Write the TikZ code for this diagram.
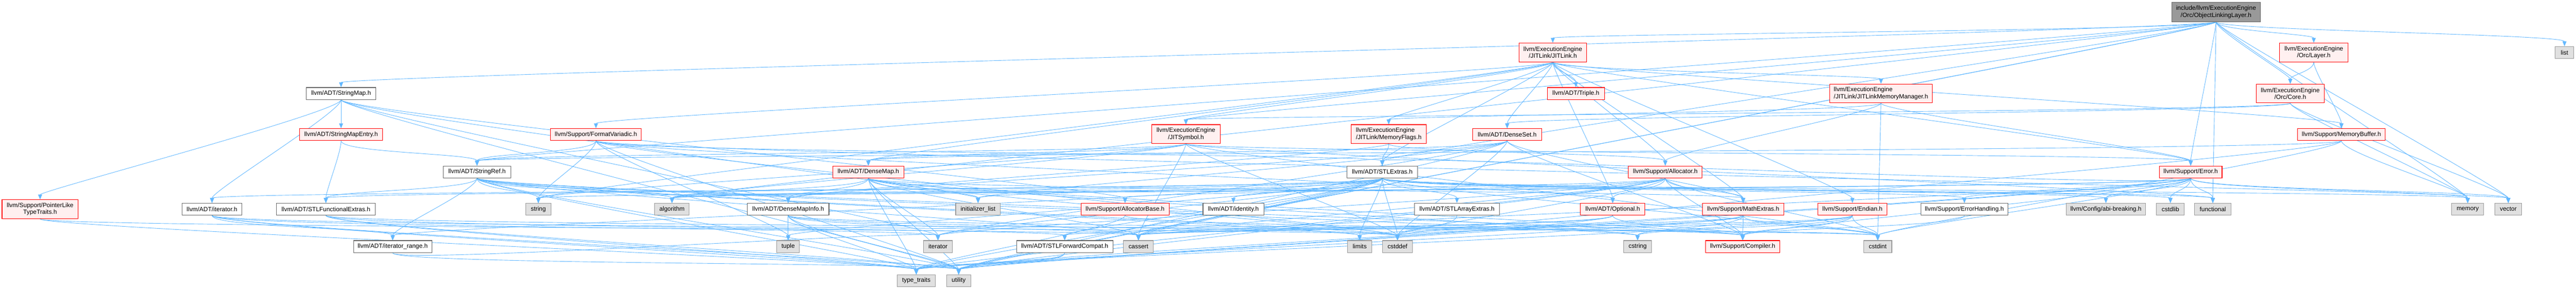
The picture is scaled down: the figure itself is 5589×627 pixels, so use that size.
\documentclass[tikz,border=0pt]{standalone}
\usepackage{fontspec}
\setmainfont{Liberation Sans}
\usetikzlibrary{arrows.meta,backgrounds}
\definecolor{edgeblue}{HTML}{63B8FF}
\definecolor{pinkfill}{HTML}{FFF0F0}
\definecolor{grayfill}{HTML}{E0E0E0}
\definecolor{grayborder}{HTML}{999999}
\definecolor{whiteborder}{HTML}{666666}
\definecolor{mainfill}{HTML}{999999}
\tikzset{
  basebox/.style={rectangle, inner sep=1pt, font=\fontsize{10pt}{11.25pt}\selectfont, align=center, line width=0.9pt},
  rednode/.style={basebox, draw=red, fill=pinkfill},
  redleft/.style={basebox, draw=red, fill=pinkfill, align=left},
  graynode/.style={basebox, draw=grayborder, fill=grayfill},
  whitenode/.style={basebox, draw=whiteborder, fill=white},
  mainnode/.style={basebox, draw=whiteborder, fill=mainfill},
  depline/.style={draw=edgeblue, line width=0.75pt, -{Triangle[length=8pt,width=6.5pt]}}
}
\newcommand\mk[7]{\node[#1,minimum width=#5*0.75pt,minimum height=#6*0.75pt] (#2) at (#3,#4) {#7};}
\newcommand\dep[2]{\draw[depline] (#1) .. controls +(0,40) and +(0,-40) .. (#2);}
\begin{document}
\begin{tikzpicture}[x=0.75pt,y=-0.75pt]
\useasboundingbox (0,0) rectangle (5589,627);
% row 0
\mk{mainnode}{main}{4808}{26}{192}{42}{include/llvm/ExecutionEngine\\/Orc/ObjectLinkingLayer.h}
% row 1
\mk{rednode}{jitlink}{3369}{114}{147}{41}{llvm/ExecutionEngine\\/JITLink/JITLink.h}
\mk{rednode}{layer}{5020}{114}{148}{41}{llvm/ExecutionEngine\\/Orc/Layer.h}
\mk{graynode}{list}{5564}{114}{40}{26}{list}
% row 2
\mk{whitenode}{stringmap}{740}{203}{151}{26}{llvm/ADT/StringMap.h}
\mk{rednode}{triple}{3419}{203}{124}{26}{llvm/ADT/Triple.h}
\mk{redleft}{jlmm}{4081}{203}{223}{41}{llvm/ExecutionEngine\\/JITLink/JITLinkMemoryManager.h}
\mk{rednode}{core}{4969}{203}{148}{41}{llvm/ExecutionEngine\\/Orc/Core.h}
% row 3
\mk{rednode}{smentry}{740}{292}{180}{26}{llvm/ADT/StringMapEntry.h}
\mk{rednode}{fmtvar}{1293}{292}{197}{26}{llvm/Support/FormatVariadic.h}
\mk{rednode}{jitsym}{2573}{291}{148}{41}{llvm/ExecutionEngine\\/JITSymbol.h}
\mk{redleft}{memflags}{3013}{291}{163}{41}{llvm/ExecutionEngine\\/JITLink/MemoryFlags.h}
\mk{rednode}{denseset}{3270}{292}{149}{26}{llvm/ADT/DenseSet.h}
\mk{rednode}{membuf}{5080}{292}{190}{26}{llvm/Support/MemoryBuffer.h}
% row 4
\mk{whitenode}{stringref}{1035}{373}{146}{26}{llvm/ADT/StringRef.h}
\mk{rednode}{densemap}{1884}{373}{155}{26}{llvm/ADT/DenseMap.h}
\mk{whitenode}{stlextras}{2999}{373}{153}{26}{llvm/ADT/STLExtras.h}
\mk{rednode}{allocator}{3613}{373}{160}{26}{llvm/Support/Allocator.h}
\mk{rednode}{error}{4753}{373}{136}{26}{llvm/Support/Error.h}
% row 5
\mk{rednode}{ptrtraits}{87}{454}{165}{41}{llvm/Support/PointerLike\\TypeTraits.h}
\mk{whitenode}{iterh}{460}{454}{130}{26}{llvm/ADT/iterator.h}
\mk{whitenode}{stlfunc}{707}{454}{214}{26}{llvm/ADT/STLFunctionalExtras.h}
\mk{graynode}{string}{1168}{454}{54}{26}{string}
\mk{graynode}{algorithm}{1458}{454}{75}{26}{algorithm}
\mk{whitenode}{dmi}{1710}{454}{177}{26}{llvm/ADT/DenseMapInfo.h}
\mk{graynode}{initlist}{2122}{454}{97}{26}{initializer\_list}
\mk{rednode}{allocbase}{2441}{454}{191}{26}{llvm/Support/AllocatorBase.h}
\mk{whitenode}{identity}{2676}{454}{132}{26}{llvm/ADT/identity.h}
\mk{whitenode}{stlarray}{3161}{454}{185}{26}{llvm/ADT/STLArrayExtras.h}
\mk{rednode}{optional}{3499}{454}{140}{26}{llvm/ADT/Optional.h}
\mk{rednode}{mathext}{3782}{454}{177}{26}{llvm/Support/MathExtras.h}
\mk{rednode}{endian}{4019}{454}{150}{26}{llvm/Support/Endian.h}
\mk{whitenode}{errhand}{4262}{454}{189}{26}{llvm/Support/ErrorHandling.h}
\mk{graynode}{abi}{4569}{454}{173}{26}{llvm/Config/abi-breaking.h}
\mk{graynode}{cstdlib}{4709}{454}{60}{26}{cstdlib}
\mk{graynode}{functional}{4801}{454}{79}{26}{functional}
\mk{graynode}{memory}{5354}{454}{69}{26}{memory}
\mk{graynode}{vector}{5442}{454}{58}{26}{vector}
% row 6
\mk{whitenode}{iterrange}{852}{535}{170}{26}{llvm/ADT/iterator\_range.h}
\mk{graynode}{tuple}{1710}{535}{49}{26}{tuple}
\mk{graynode}{iterator}{2035}{535}{62}{26}{iterator}
\mk{whitenode}{stlfwd}{2310}{535}{209}{26}{llvm/ADT/STLForwardCompat.h}
\mk{graynode}{cassert}{2470}{535}{65}{26}{cassert}
\mk{graynode}{limits}{2950}{535}{52}{26}{limits}
\mk{graynode}{cstddef}{3032}{535}{64}{26}{cstddef}
\mk{graynode}{cstring}{3553}{535}{60}{26}{cstring}
\mk{rednode}{compiler}{3781}{535}{161}{26}{llvm/Support/Compiler.h}
\mk{graynode}{cstdint}{4074}{535}{61}{26}{cstdint}
% row 7
\mk{graynode}{typetraits}{1988}{609}{82}{26}{type\_traits}
\mk{graynode}{utility}{2080}{609}{52}{26}{utility}

\begin{pgfonlayer}{background}
% main
\dep{main}{stlextras}\dep{main}{stringmap}\dep{main}{stringref}\dep{main}{jitlink}
\dep{main}{jitsym}\dep{main}{core}\dep{main}{layer}\dep{main}{error}
\dep{main}{algorithm}\dep{main}{cassert}\dep{main}{functional}\dep{main}{list}
\dep{main}{memory}\dep{main}{utility}\dep{main}{vector}
% layer, core
\dep{layer}{core}\dep{layer}{membuf}
\dep{core}{jitsym}\dep{core}{denseset}\dep{core}{memory}\dep{core}{vector}
% jitlink
\dep{jitlink}{jlmm}\dep{jitlink}{memflags}\dep{jitlink}{jitsym}\dep{jitlink}{triple}
\dep{jitlink}{densemap}\dep{jitlink}{denseset}\dep{jitlink}{optional}\dep{jitlink}{stlextras}
\dep{jitlink}{allocator}\dep{jitlink}{endian}\dep{jitlink}{mathext}\dep{jitlink}{error}
\dep{jitlink}{fmtvar}\dep{jitlink}{membuf}\dep{jitlink}{string}
% jlmm
\dep{jlmm}{memflags}\dep{jlmm}{allocator}\dep{jlmm}{error}\dep{jlmm}{cstdint}
% memflags
\dep{memflags}{dmi}\dep{memflags}{stlextras}\dep{memflags}{allocator}
% jitsym
\dep{jitsym}{densemap}\dep{jitsym}{stringref}\dep{jitsym}{error}\dep{jitsym}{algorithm}
\dep{jitsym}{cassert}\dep{jitsym}{cstddef}\dep{jitsym}{cstdint}\dep{jitsym}{functional}
\dep{jitsym}{string}
% denseset
\dep{denseset}{densemap}\dep{denseset}{dmi}\dep{denseset}{compiler}\dep{denseset}{mathext}
\dep{denseset}{cstddef}\dep{denseset}{initlist}\dep{denseset}{iterator}\dep{denseset}{utility}
% densemap
\dep{densemap}{dmi}\dep{densemap}{compiler}\dep{densemap}{mathext}\dep{densemap}{algorithm}
\dep{densemap}{cassert}\dep{densemap}{cstddef}\dep{densemap}{cstring}\dep{densemap}{initlist}
\dep{densemap}{iterator}\dep{densemap}{typetraits}\dep{densemap}{utility}
% stlextras
\dep{stlextras}{identity}\dep{stlextras}{stlfwd}\dep{stlextras}{stlfunc}\dep{stlextras}{iterh}
\dep{stlextras}{iterrange}\dep{stlextras}{abi}\dep{stlextras}{errhand}\dep{stlextras}{stlarray}
\dep{stlextras}{algorithm}\dep{stlextras}{cassert}\dep{stlextras}{cstddef}\dep{stlextras}{cstdint}
\dep{stlextras}{cstdlib}\dep{stlextras}{functional}\dep{stlextras}{initlist}\dep{stlextras}{iterator}
\dep{stlextras}{limits}\dep{stlextras}{memory}\dep{stlextras}{tuple}\dep{stlextras}{typetraits}
\dep{stlextras}{utility}
\dep{stlarray}{cstddef}
% allocator
\dep{allocator}{allocbase}\dep{allocator}{compiler}\dep{allocator}{mathext}\dep{allocator}{optional}
\dep{allocator}{algorithm}\dep{allocator}{cassert}\dep{allocator}{cstddef}\dep{allocator}{cstdint}
\dep{allocator}{iterator}\dep{allocator}{typetraits}\dep{allocator}{utility}
\dep{allocbase}{compiler}\dep{allocbase}{typetraits}
% optional
\dep{optional}{compiler}\dep{optional}{stlfwd}\dep{optional}{cassert}\dep{optional}{utility}
% mathext
\dep{mathext}{compiler}\dep{mathext}{cassert}\dep{mathext}{cstdint}\dep{mathext}{cstring}
\dep{mathext}{limits}\dep{mathext}{typetraits}
% endian
\dep{endian}{compiler}\dep{endian}{cassert}\dep{endian}{cstddef}\dep{endian}{cstdint}
\dep{endian}{cstring}\dep{endian}{typetraits}
\dep{errhand}{compiler}
% error
\dep{error}{abi}\dep{error}{stlextras}\dep{error}{errhand}\dep{error}{compiler}
\dep{error}{algorithm}\dep{error}{cassert}\dep{error}{cstdint}\dep{error}{cstdlib}
\dep{error}{functional}\dep{error}{memory}\dep{error}{string}\dep{error}{typetraits}
\dep{error}{utility}\dep{error}{vector}
% membuf
\dep{membuf}{stringref}\dep{membuf}{cstddef}\dep{membuf}{cstdint}\dep{membuf}{memory}
% stringref
\dep{stringref}{dmi}\dep{stringref}{stlfunc}\dep{stringref}{iterrange}\dep{stringref}{compiler}
\dep{stringref}{algorithm}\dep{stringref}{cassert}\dep{stringref}{cstddef}\dep{stringref}{cstring}
\dep{stringref}{limits}\dep{stringref}{string}\dep{stringref}{typetraits}\dep{stringref}{utility}
% stringmap
\dep{stringmap}{smentry}\dep{stringmap}{ptrtraits}\dep{stringmap}{allocbase}\dep{stringmap}{iterh}
\dep{stringmap}{initlist}\dep{stringmap}{iterator}\dep{stringmap}{utility}
\dep{smentry}{stringref}\dep{smentry}{stlfunc}
% fmtvar
\dep{fmtvar}{stringref}\dep{fmtvar}{string}\dep{fmtvar}{optional}\dep{fmtvar}{stlextras}
\dep{fmtvar}{cstddef}\dep{fmtvar}{tuple}\dep{fmtvar}{utility}\dep{fmtvar}{vector}
% small ones
\dep{iterh}{iterrange}\dep{iterh}{cstddef}\dep{iterh}{iterator}\dep{iterh}{typetraits}\dep{iterh}{utility}
\dep{iterrange}{iterator}\dep{iterrange}{utility}
\dep{stlfunc}{stlfwd}\dep{stlfunc}{cstdint}\dep{stlfunc}{typetraits}\dep{stlfunc}{utility}
\dep{stlfwd}{typetraits}\dep{stlfwd}{utility}
\dep{dmi}{tuple}\dep{dmi}{cassert}\dep{dmi}{cstddef}\dep{dmi}{cstdint}\dep{dmi}{typetraits}\dep{dmi}{utility}
\dep{ptrtraits}{cassert}\dep{ptrtraits}{typetraits}
\end{pgfonlayer}
\end{tikzpicture}
\end{document}
